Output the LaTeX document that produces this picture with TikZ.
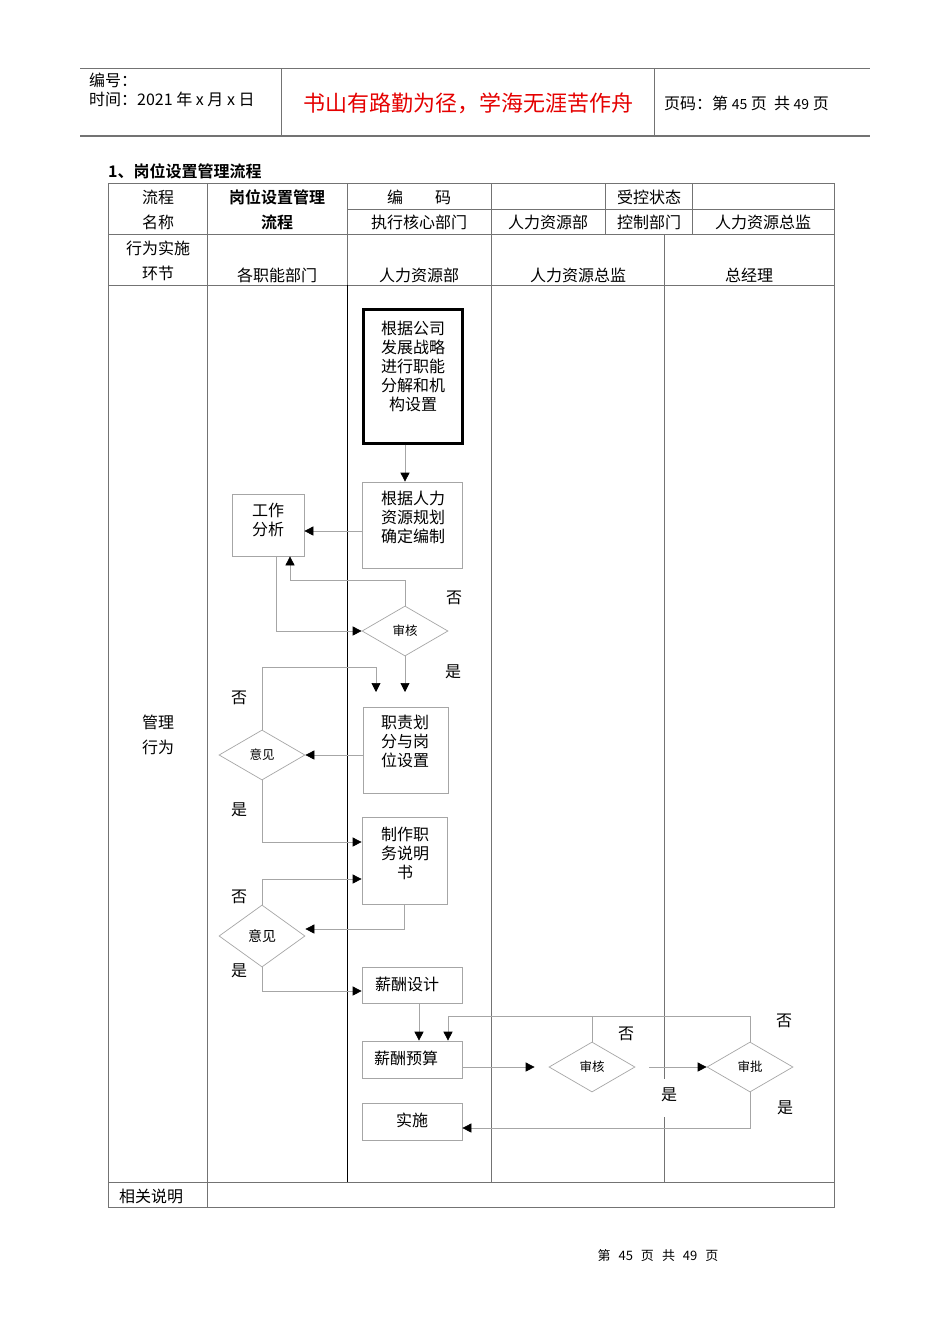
\documentclass[tikz,border=0pt]{standalone}
\usepackage{fontspec}
\setmainfont{Noto Sans CJK SC}[BoldFont={Noto Sans CJK SC Bold}]
\usetikzlibrary{arrows.meta,shapes.geometric,calc}
\newcommand\fsz[2]{\fontsize{#1}{#2}\selectfont}
\begin{document}
\begin{tikzpicture}[x=1pt,y=-1pt,
  flow/.style={draw=black!35, line width=0.7pt},
  arr/.style={flow, -{Triangle[length=9pt,width=9pt,color=black]}},
  fbox/.style={draw=black!35, line width=0.7pt, inner sep=0pt, rectangle},
  thickbox/.style={draw=black, line width=3pt, inner sep=0pt, rectangle},
  dia/.style={draw=black!35, line width=0.7pt, diamond, inner sep=0pt, minimum width=86pt, minimum height=50pt, font=\fsz{12.5}{13}},
  txt/.style={font=\fsz{16}{19}, align=center, inner sep=0pt},
  lbl/.style={font=\fsz{16}{19}, inner sep=0pt},
  tbl/.style={draw=black!55, line width=1pt},
  hdr/.style={draw=black!55, line width=1pt}]
\useasboundingbox[fill=white] (0,0) rectangle (950,1344);

% ---------- page header ----------
\draw[hdr] (80,68) -- (870,68);
\draw[hdr, line width=1.6pt] (80,136) -- (870,136);
\draw[hdr] (281,68) -- (281,136);
\draw[hdr] (654,68) -- (654,136);
\node[anchor=west, inner sep=0pt, font=\fsz{16}{18}] (h1) at (89,80) {编号：};
\node[anchor=west, inner sep=0pt, font=\fsz{16}{18}] (h2) at (89,99) {时间：2021 年 x 月 x 日};
\node[inner sep=0pt, font=\fsz{22}{24}, text=red!90!black] (h3) at (468,103) {书山有路勤为径，学海无涯苦作舟};
\node[anchor=west, inner sep=0pt, font=\fsz{16}{18}] (h4) at (664,103) {页码：第 {\fsz{14}{16}45} 页\ \ 共 {\fsz{14}{16}49} 页};

% ---------- title ----------
\node[anchor=west, inner sep=0pt, font=\fsz{16}{18}\bfseries] (title) at (108,171) {1、岗位设置管理流程};

% ---------- table ----------
\draw[tbl] (108,183) rectangle (834,1207);
\draw[tbl] (347,209) -- (834,209);
\draw[tbl] (108,234) -- (834,234);
\draw[tbl] (108,285) -- (834,285);
\draw[tbl] (108,1182) -- (834,1182);
\draw[tbl] (207,183) -- (207,1207);
\draw[tbl] (347,183) -- (347,285);
\draw[draw=black, line width=0.8pt] (347,285) -- (347,1182);
\draw[tbl] (491,183) -- (491,1182);
\draw[tbl] (605,183) -- (605,234);
\draw[tbl] (692,183) -- (692,234);
\draw[tbl] (664,234) -- (664,1079);
\draw[tbl] (664,1117) -- (664,1182);

\node[lbl] (c1) at (158,197) {流程};
\node[lbl] (c2) at (158,222) {名称};
\node[lbl, font=\fsz{16}{19}\bfseries] (c3) at (277,197) {岗位设置管理};
\node[lbl, font=\fsz{16}{19}\bfseries] (c4) at (277,222) {流程};
\node[lbl] (c5) at (419,197) {编　　码};
\node[lbl] (c6) at (649,197) {受控状态};
\node[lbl] (c7) at (419,222) {执行核心部门};
\node[lbl] (c8) at (548,222) {人力资源部};
\node[lbl] (c9) at (649,222) {控制部门};
\node[lbl] (c10) at (763,222) {人力资源总监};
\node[lbl] (c11) at (158,248) {行为实施};
\node[lbl] (c12) at (158,273) {环节};
\node[lbl] (c13) at (277,275) {各职能部门};
\node[lbl] (c14) at (419,275) {人力资源部};
\node[lbl] (c15) at (578,275) {人力资源总监};
\node[lbl] (c16) at (749,275) {总经理};
\node[lbl] (c17) at (158,722) {管理};
\node[lbl] (c18) at (158,747) {行为};
\node[lbl] (c19) at (151,1196) {相关说明};

% ---------- flow boxes ----------
\node[thickbox, minimum width=99pt, minimum height=134pt] (b1) at (412.5,376) {};
\node[txt] (b1t) at (413,366) {根据公司\\发展战略\\进行职能\\分解和机\\构设置};
\node[fbox, minimum width=100pt, minimum height=86pt] (b2) at (412,525) {};
\node[txt] (b2t) at (413,517) {根据人力\\资源规划\\确定编制};
\node[fbox, minimum width=72pt, minimum height=62pt] (gz) at (268,525) {};
\node[txt] (gzt) at (268,520) {工作\\分析};
\node[fbox, minimum width=85pt, minimum height=86pt] (zz) at (405.5,750) {};
\node[txt] (zzt) at (405,741) {职责划\\分与岗\\位设置};
\node[fbox, minimum width=85pt, minimum height=87pt] (zs) at (404.5,860.5) {};
\node[txt] (zst) at (405,853) {制作职\\务说明\\书};
\node[fbox, minimum width=100pt, minimum height=36pt] (xs) at (412,985) {};
\node[txt] (xst) at (407,984) {薪酬设计};
\node[fbox, minimum width=100pt, minimum height=37pt] (xy) at (412,1059.5) {};
\node[txt] (xyt) at (406,1058) {薪酬预算};
\node[fbox, minimum width=100pt, minimum height=37pt] (ss) at (412,1121.5) {};
\node[txt] (sst) at (412,1120) {实施};

% ---------- diamonds ----------
\node[dia] (d1) at (405,631) {审核};
\node[dia] (d2) at (262,755) {意见};
\node[dia, minimum height=62pt, font=\fsz{14}{15}] (d3) at (262,936) {意见};
\node[dia] (d4) at (592,1067) {审核};
\node[dia] (d5) at (750,1067) {审批};

\coordinate (zin1) at (405,692);
\coordinate (zin2) at (376,692);

% ---------- connectors ----------
\draw[arr] (b1.south -| d1) -- (b2.north -| d1);
\draw[arr] ($(b2.west)+(0,6)$) -- ($(gz.east)+(0,6)$);
\draw[arr] ($(gz.south)+(8,0)$) |- (d1.west);
\draw[arr] (d1.north) -- ++(0,-25) -| ($(gz.south)+(22,0)$);
\draw[arr] (d1.south) -- (zin1);
\draw[arr] (d2.north) -- ++(0,-62) -| (zin2);
\draw[arr] (zz.west |- d2.east) -- (d2.east);
\draw[arr] (d2.south) |- ($(zs.west)+(0,-18.5)$);
\draw[arr] (zs.south) |- ($(d3.east)+(0,-7)$);
\draw[arr] (d3.north) |- ($(zs.west)+(0,18.5)$);
\draw[arr] (d3.south) |- ($(xs.west)+(0,6)$);
\draw[arr] ($(xs.south)+(7,0)$) -- ($(xy.north)+(7,0)$);
\draw[flow] (d4.north) -- ++(0,-25);
\draw[arr] (d5.north) -- ++(0,-25) -| ($(xy.north)+(36,0)$);
\draw[arr] (xy.east |- d4.west) -- ($(d4.west)+(-14,0)$);
\draw[arr] ($(d4.east)+(14,0)$) -- (d5.west);
\draw[arr] (d5.south) |- ($(ss.east)+(0,6.5)$);

% ---------- branch labels ----------
\node[lbl] (n1) at (454,598) {否};
\node[lbl] (y1) at (453,672) {是};
\node[lbl] (n2) at (239,698) {否};
\node[lbl] (y2) at (239,810) {是};
\node[lbl] (n3) at (239,897) {否};
\node[lbl] (y3) at (239,971) {是};
\node[lbl] (n4) at (626,1034) {否};
\node[lbl] (n5) at (784,1021) {否};
\node[lbl] (y4) at (669,1095) {是};
\node[lbl] (y5) at (785,1108) {是};

% ---------- footer ----------
\node[inner sep=0pt, font=\fsz{13}{15}] (foot) at (658,1256) {第\hspace{8pt}45\hspace{8pt}页\hspace{8pt}共\hspace{8pt}49\hspace{8pt}页};
\end{tikzpicture}
\end{document}
